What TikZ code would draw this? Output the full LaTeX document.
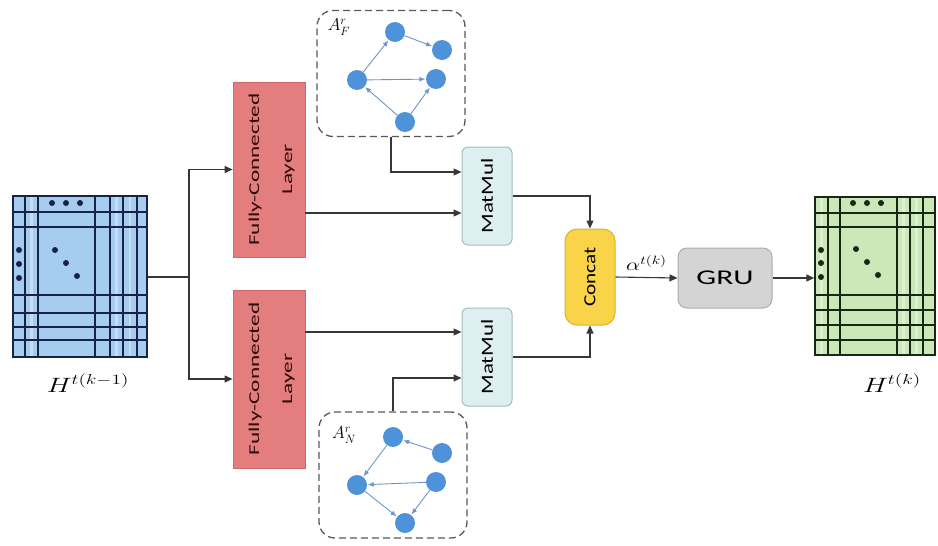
\documentclass[tikz,border=0pt]{standalone}
\usepackage{fontspec}
\setmainfont{Carlito}
\usepackage{graphicx}
\usetikzlibrary{arrows.meta}
\definecolor{fcfill}{RGB}{228,126,126}
\definecolor{fcdraw}{RGB}{205,105,105}
\definecolor{fctext}{RGB}{45,10,10}
\definecolor{mmfill}{RGB}{222,239,241}
\definecolor{mmdraw}{RGB}{160,190,195}
\definecolor{ccfill}{RGB}{249,212,72}
\definecolor{ccdraw}{RGB}{225,175,45}
\definecolor{grufill}{RGB}{212,212,212}
\definecolor{grudraw}{RGB}{172,172,172}
\definecolor{bluem}{RGB}{166,204,240}
\definecolor{bluel}{RGB}{20,35,70}
\definecolor{greenm}{RGB}{204,232,184}
\definecolor{greenl}{RGB}{20,40,20}
\definecolor{gnodec}{RGB}{78,146,218}
\definecolor{gedgec}{RGB}{110,150,205}
\definecolor{conncol}{RGB}{55,55,55}
\newcommand{\wtext}[2]{\scalebox{#1}[1]{#2}}
\begin{document}
\begin{tikzpicture}[x=1pt,y=-1pt,
  conn/.style={draw=conncol, line width=1.1pt, -{Triangle[length=8pt,width=7pt]}},
  plainline/.style={draw=conncol, line width=1.1pt},
  fcbox/.style={draw=fcdraw, fill=fcfill, line width=0.8pt, minimum width=72pt, inner sep=0pt, text=fctext},
  mmbox/.style={draw=mmdraw, fill=mmfill, line width=1pt, rounded corners=6pt, minimum width=50pt, minimum height=98pt, inner sep=0pt},
  ccbox/.style={draw=ccdraw, fill=ccfill, line width=1pt, rounded corners=12pt, minimum width=50pt, minimum height=96pt, inner sep=0pt},
  grubox/.style={draw=grudraw, fill=grufill, line width=1pt, rounded corners=9pt, minimum width=94pt, minimum height=60pt, inner sep=0pt},
  dbox/.style={draw=black!65, line width=1.3pt, dash pattern=on 7pt off 4pt, rounded corners=16pt, minimum width=148pt, minimum height=126pt},
  gnode/.style={circle, fill=gnodec, minimum size=20pt, inner sep=0pt},
  gedge/.style={draw=gedgec, line width=0.9pt, -{Latex[length=6pt,width=5pt]}, shorten >=0.5pt},
  mat/.style={draw, line width=1.4pt, inner sep=0pt}
]
\useasboundingbox (0,0) rectangle (938,546);

% ---------- left matrix ----------
\node[mat, draw=bluel, fill=bluem, minimum width=134pt, minimum height=161pt] (hl) at (80,276.5) {};
\foreach \xx in {31.5,116.5,130} \draw[white!35!bluem, line width=2.5pt] (\xx,197) -- (\xx,356);
\foreach \xx in {25,38,95,110,123,137} \draw[bluel, line width=1.4pt] (\xx,196) -- (\xx,357);
\foreach \yy in {212,227,295,313,327,340} \draw[bluel, line width=1.4pt] (13,\yy) -- (147,\yy);
\foreach \p in {(52,203),(66,203),(80,203),(19,250),(19,264),(19,278),(55,250),(66,263),(77,276)}
  \fill[bluel] \p circle (3);
\node[font=\fontsize{20}{22}\selectfont] (lhl) at (88,383) {\wtext{1.35}{$H^{t(k-1)}$}};

% ---------- right matrix ----------
\node[mat, draw=greenl, fill=greenm, minimum width=120pt, minimum height=158pt] (hr) at (875,276) {};
\foreach \xx in {821.5,903.5,916.5} \draw[white!35!greenm, line width=2.5pt] (\xx,198) -- (\xx,354);
\foreach \xx in {828,840,897,910,923} \draw[greenl, line width=1.4pt] (\xx,197) -- (\xx,355);
\foreach \yy in {213,227,295,310,325,340} \draw[greenl, line width=1.4pt] (815,\yy) -- (935,\yy);
\foreach \p in {(853,203),(867,203),(881,203),(821,250),(821,263),(821,277),(856,249),(867,262),(878,275)}
  \fill[greenl] \p circle (3);
\node[font=\fontsize{20}{22}\selectfont] (lhr) at (892,383) {\wtext{1.35}{$H^{t(k)}$}};

% ---------- fully-connected layers ----------
\node[fcbox, minimum height=175pt] (fc1) at (269,169.5)
  {\rotatebox{90}{\fontsize{15}{33}\selectfont\wtext{1.55}{\begin{tabular}{@{}c@{}}Fully-Connected\\Layer\end{tabular}}}};
\node[fcbox, minimum height=178pt] (fc2) at (269,379)
  {\rotatebox{90}{\fontsize{15}{33}\selectfont\wtext{1.55}{\begin{tabular}{@{}c@{}}Fully-Connected\\Layer\end{tabular}}}};

% ---------- MatMul ----------
\node[mmbox] (mm1) at (487,196) {\rotatebox{90}{\fontsize{17}{19}\selectfont\wtext{1.35}{MatMul}}};
\node[mmbox] (mm2) at (487,357) {\rotatebox{90}{\fontsize{17}{19}\selectfont\wtext{1.35}{MatMul}}};

% ---------- Concat and GRU ----------
\node[ccbox] (cc) at (590,277) {\rotatebox{90}{\fontsize{17}{19}\selectfont\wtext{1.25}{Concat}}};
\node[grubox] (gru) at (725,278) {\fontsize{21}{23}\selectfont\wtext{1.5}{GRU}};

% ---------- graph A_F ----------
\node[dbox] (af) at (391,73.5) {};
\node[font=\fontsize{18}{20}\selectfont] (afl) at (339,27) {$A_{F}^{r}$};
\node[gnode] (ft) at (395,32) {};
\node[gnode] (ftr) at (442,50) {};
\node[gnode] (fl) at (357,80) {};
\node[gnode] (fmr) at (436,79) {};
\node[gnode] (fb) at (405,122) {};
\draw[gedge] (fl) -- (ft);
\draw[gedge] (ft) -- (ftr);
\draw[gedge] (fl) -- (fmr);
\draw[gedge] (fb) -- (fmr);
\draw[gedge] (fb) -- (fl);

% ---------- graph A_N ----------
\node[dbox] (an) at (393,475) {};
\node[font=\fontsize{18}{20}\selectfont] (anl) at (344,435) {$A_{N}^{r}$};
\node[gnode] (nt) at (393,437) {};
\node[gnode] (ntr) at (442,453) {};
\node[gnode] (nl) at (357,485) {};
\node[gnode] (nmr) at (436,482) {};
\node[gnode] (nb) at (405,523) {};
\draw[gedge] (ntr) -- (nt);
\draw[gedge] (nt) -- (nl);
\draw[gedge] (nmr) -- (nl);
\draw[gedge] (nl) -- (nb);
\draw[gedge] (nmr) -- (nb);

% ---------- connectors ----------
\coordinate (split) at (189,277);
\draw[plainline] (hl.east |- split) -- (split);
\draw[conn] (split) |- (fc1.west);
\draw[conn] (split) |- (fc2.west);

\draw[conn] (af.south) |- (mm1.west |- 0,172);
\draw[conn] (fc1.east |- 0,213) -- (mm1.west |- 0,213);
\draw[conn] (fc2.east |- 0,332) -- (mm2.west |- 0,332);
\draw[conn] (an.north) |- (mm2.west |- 0,378);

\draw[conn] (mm1.east) -| (cc.north);
\draw[conn] (mm2.east) -| (cc.south);

\draw[conn] (cc.east) -- (gru.west)
  node[midway, above=3pt, font=\fontsize{17}{19}\selectfont] (alab) {\wtext{1.3}{$\alpha^{t(k)}$}};
\draw[conn] (gru.east) -- (hr.west |- gru.east);
\end{tikzpicture}
\end{document}
